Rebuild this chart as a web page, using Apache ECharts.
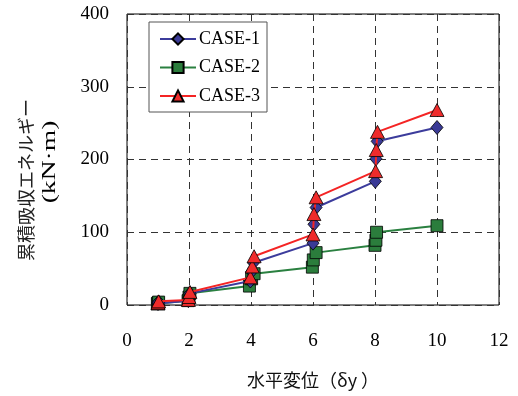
<!DOCTYPE html>
<html>
<head>
<meta charset="utf-8">
<script src="https://cdn.jsdelivr.net/npm/echarts@6/dist/echarts.min.js"></script>
<style>
html,body{margin:0;padding:0;background:#fff;}
#c{width:518px;height:396px;}
</style>
</head>
<body>
<div id="c"></div>
<script>
// Data
const seriesNames = ['CASE-1', 'CASE-2', 'CASE-3'];
const xTicks = [0, 2, 4, 6, 8, 10, 12];
const yTicks = [0, 100, 200, 300, 400];

const case1X = [1.0, 1.0, 1.02, 1.98, 2.0, 2.03, 3.98, 4.02, 4.08, 6.0, 6.03, 6.1, 8.01, 8.03, 8.07, 10.0];
const case1Y = [2, 3, 4, 6, 10, 16, 33, 46, 58, 85, 111, 134, 170, 201, 225, 244];

const case2X = [0.98, 1.0, 1.02, 1.97, 2.0, 2.03, 3.95, 4.02, 4.1, 5.98, 6.01, 6.1, 8.0, 8.03, 8.05, 10.0];
const case2Y = [2, 3, 4, 6, 11, 16, 26, 36, 43, 52, 62, 72, 82, 89, 100, 109];

const case3X = [1.0, 1.0, 1.02, 1.98, 2.0, 2.03, 3.98, 4.04, 4.1, 6.0, 6.03, 6.1, 8.02, 8.04, 8.08, 10.0];
const case3Y = [2, 3, 5, 7, 11, 18, 38, 53, 67, 97, 125, 148, 184, 213, 238, 268];

const yAxisTitle = '累積吸収エネルギー';
const yAxisUnit = '(kN·m)';
const xAxisTitle = '水平変位（δy ）';

function pairs(xs, ys) { return xs.map((x, i) => [x, ys[i]]); }

const serif = "'Liberation Serif', 'Times New Roman', Times, 'DejaVu Serif', serif";
const jp = "'Noto Sans CJK JP', sans-serif";

const chart = echarts.init(document.getElementById('c'), null, {renderer: 'canvas'});
chart.setOption({
  animation: false,
  backgroundColor: '#fff',
  textStyle: {fontFamily: serif},
  grid: {left: 127, right: 19, top: 14, bottom: 91, outerBoundsMode: 'none', containLabel: false,
         show: true, borderColor: '#000', borderWidth: 1, backgroundColor: 'transparent'},
  legend: {
    orient: 'vertical',
    left: 149, top: 22,
    padding: [8, 7, 7, 10],
    itemGap: 10.5,
    itemWidth: 36, itemHeight: 14,
    borderColor: '#555', borderWidth: 1,
    backgroundColor: '#fff',
    textStyle: {fontFamily: serif, fontSize: 18, color: '#000', padding: [0, 0, 0, -2]},
    data: seriesNames
  },
  xAxis: {
    type: 'value', min: xTicks[0], max: xTicks[xTicks.length - 1], interval: 2,
    axisLine: {show: false}, axisTick: {show: false},
    axisLabel: {fontFamily: serif, fontSize: 19, color: '#000', margin: 27},
    splitLine: {show: true, lineStyle: {color: '#333', width: 1, type: [7, 5]}},
    name: xAxisTitle, nameLocation: 'middle', nameGap: 66,
    nameTextStyle: {fontFamily: jp, fontSize: 18, color: '#111'}
  },
  yAxis: {
    type: 'value', min: yTicks[0], max: yTicks[yTicks.length - 1], interval: 100,
    axisLine: {show: false}, axisTick: {show: false},
    axisLabel: {fontFamily: serif, fontSize: 19, color: '#000', margin: 18},
    splitLine: {show: true, lineStyle: {color: '#333', width: 1, type: [7, 5]}}
  },
  graphic: [
    {type: 'text', x: 26, y: 180, rotation: Math.PI / 2,
     style: {text: yAxisTitle, fontFamily: jp, fontSize: 18, fill: '#222', align: 'center', verticalAlign: 'middle'}},
    {type: 'text', x: 50, y: 162, rotation: Math.PI / 2, scaleX: 1.45, scaleY: 1,
     style: {text: yAxisUnit, fontFamily: serif, fontSize: 19, fill: '#000', align: 'center', verticalAlign: 'middle'}}
  ],
  series: [
    {name: seriesNames[0], type: 'line', data: pairs(case1X, case1Y), z: 3,
     symbol: 'diamond', symbolSize: [12, 14],
     lineStyle: {color: '#3c3c9c', width: 2},
     itemStyle: {color: '#3a3a96', borderColor: '#000', borderWidth: 0.8}},
    {name: seriesNames[1], type: 'line', data: pairs(case2X, case2Y), z: 2,
     symbol: 'rect', symbolSize: 12,
     lineStyle: {color: '#2a8040', width: 2},
     itemStyle: {color: '#2b7d3c', borderColor: '#000', borderWidth: 0.8}},
    {name: seriesNames[2], type: 'line', data: pairs(case3X, case3Y), z: 4,
     symbol: 'triangle', symbolSize: [14, 13],
     lineStyle: {color: '#f42424', width: 2},
     itemStyle: {color: '#ef2b2b', borderColor: '#000', borderWidth: 0.8}}
  ]
});
</script>
</body>
</html>
